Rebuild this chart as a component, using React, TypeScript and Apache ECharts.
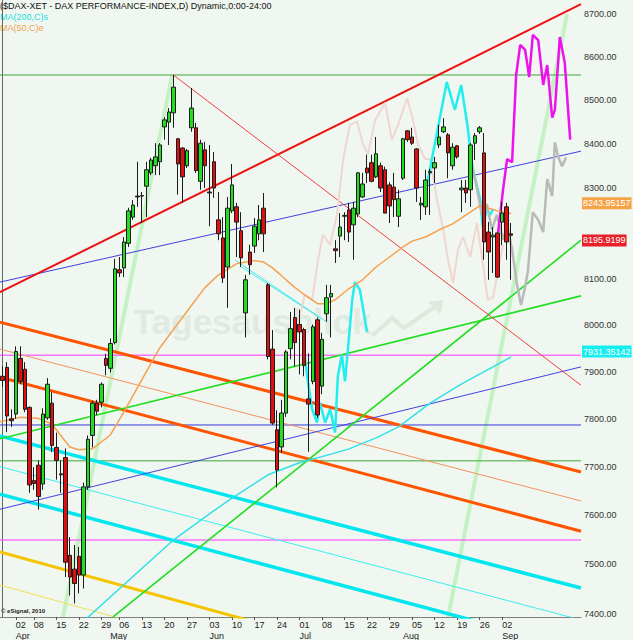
import React, { useEffect, useRef } from "react";
import * as echarts from "echarts";

// ---------- calendar ----------
const FIRST_DAY = "2013-03-26";
const HOLIDAYS = ["2013-03-29", "2013-04-01", "2013-05-01"];
const SLOT_COUNT = 129;
const LAST_LABEL_DAY = "2013-09-02";
const MONTH_NAMES = ["Jan", "Feb", "Mar", "Apr", "May", "Jun", "Jul", "Aug", "Sep", "Oct", "Nov", "Dec"];

// ---------- price axis ----------
const Y_TOP = 8732.9;
const Y_BOTTOM = 7393.9;
const yTicks = [7400, 7500, 7600, 7700, 7800, 7900, 8000, 8100, 8300, 8400, 8500, 8600, 8700];

// ---------- daily candles [open, close, low, high] ----------
const candles: number[][] = [
  [7890, 7881, 7867, 7911], [7909, 7806, 7772, 7920], [7800, 7796, 7783, 7820], [7810, 7943, 7800, 7954],
  [7928, 7879, 7873, 7954], [7905, 7820, 7814, 7920], [7824, 7662, 7646, 7826], [7671, 7665, 7652, 7699],
  [7703, 7638, 7611, 7713], [7664, 7810, 7652, 7822], [7802, 7873, 7798, 7886], [7833, 7744, 7730, 7856],
  [7740, 7713, 7673, 7771], [7685, 7683, 7646, 7713], [7719, 7504, 7474, 7738], [7518, 7474, 7437, 7555],
  [7490, 7461, 7421, 7539], [7516, 7478, 7441, 7535], [7478, 7658, 7451, 7667], [7658, 7757, 7652, 7765],
  [7765, 7833, 7740, 7838], [7833, 7816, 7808, 7840], [7835, 7873, 7824, 7877], [7928, 7913, 7892, 7938],
  [7907, 7960, 7898, 7971], [7962, 8122, 7958, 8144], [8120, 8113, 8104, 8148], [8124, 8181, 8104, 8192],
  [8178, 8250, 8170, 8257], [8236, 8263, 8230, 8274], [8283, 8281, 8259, 8360], [8283, 8284, 8223, 8292],
  [8305, 8342, 8236, 8360], [8335, 8364, 8330, 8369], [8351, 8371, 8330, 8402], [8360, 8398, 8330, 8402],
  [8439, 8455, 8410, 8461], [8450, 8473, 8398, 8482], [8471, 8530, 8437, 8558], [8412, 8355, 8286, 8414],
  [8391, 8326, 8268, 8393], [8351, 8385, 8346, 8389], [8437, 8482, 8428, 8528], [8437, 8340, 8335, 8448],
  [8316, 8402, 8297, 8410], [8387, 8351, 8301, 8405], [8292, 8290, 8216, 8398], [8360, 8301, 8279, 8382],
  [8230, 8199, 8185, 8292], [8190, 8102, 8091, 8236], [8126, 8256, 8037, 8281], [8250, 8308, 8245, 8355],
  [8259, 8225, 8148, 8268], [8206, 8146, 8126, 8247], [8026, 8098, 7973, 8109], [8159, 8131, 8109, 8175],
  [8172, 8216, 8157, 8234], [8199, 8230, 8185, 8263], [8256, 8199, 8159, 8290], [8087, 7932, 7926, 8091],
  [7948, 7791, 7787, 7989], [7777, 7693, 7657, 7818], [7741, 7812, 7729, 7840], [7812, 7942, 7804, 7946],
  [7949, 7992, 7926, 8028], [8016, 7962, 7911, 8037], [8001, 7985, 7894, 8033], [7990, 7913, 7890, 7994],
  [7842, 7831, 7731, 7939], [7879, 7996, 7873, 8001], [8011, 7808, 7802, 8016], [7869, 7969, 7852, 7983],
  [8024, 8059, 8007, 8087], [8061, 8068, 7973, 8087], [8166, 8162, 8135, 8185], [8194, 8214, 8148, 8245],
  [8238, 8240, 8185, 8247], [8252, 8203, 8181, 8268], [8219, 8256, 8142, 8270], [8243, 8335, 8236, 8337],
  [8281, 8310, 8279, 8335], [8346, 8335, 8312, 8376], [8358, 8316, 8314, 8376], [8326, 8378, 8323, 8416],
  [8351, 8301, 8292, 8358], [8342, 8245, 8245, 8349], [8308, 8261, 8223, 8314], [8303, 8275, 8236, 8335],
  [8238, 8277, 8214, 8297], [8323, 8412, 8319, 8414], [8430, 8410, 8405, 8432], [8416, 8402, 8398, 8437],
  [8389, 8301, 8270, 8391], [8263, 8267, 8230, 8281], [8259, 8319, 8241, 8342], [8335, 8338, 8241, 8344],
  [8346, 8358, 8312, 8371], [8398, 8416, 8391, 8444], [8428, 8439, 8425, 8459], [8421, 8380, 8323, 8425],
  [8351, 8393, 8342, 8402], [8396, 8371, 8367, 8398], [8297, 8301, 8247, 8319], [8301, 8290, 8268, 8319],
  [8297, 8398, 8259, 8402], [8402, 8419, 8364, 8425], [8428, 8437, 8423, 8441], [8380, 8181, 8142, 8425],
  [8203, 8159, 8098, 8225], [8192, 8196, 8113, 8214], [8201, 8104, 8102, 8203], [8225, 8245, 8174, 8270],
  [8259, 8181, 8142, 8268], [8199, 8195.9199, 8098, 8223],
];

// ---------- moving averages [slot, value] ----------
const ma50: number[][] = [
  [-0.5, 7794], [4, 7803], [8, 7801], [11, 7789], [15, 7741], [17, 7735], [20, 7737], [24, 7766],
  [27, 7814], [31, 7883], [35, 7951], [38, 7990], [42, 8042], [45, 8081], [48, 8109], [52, 8133],
  [56, 8140], [58, 8137], [60, 8124], [62, 8107], [65, 8081], [67, 8066], [70, 8046], [72, 8046],
  [74, 8055], [77, 8079], [80, 8098], [83, 8126], [86, 8148], [89, 8170], [91, 8183], [94, 8192],
  [97, 8208], [100, 8221], [103, 8241], [106, 8261], [108, 8256], [110, 8250], [113, 8243.95157],
];
const ma200: number[][] = [
  [17, 7377], [38, 7549], [45, 7596], [51, 7635], [59, 7683], [66, 7708], [73, 7726], [77, 7737],
  [83, 7760], [88, 7783], [95, 7833], [102, 7874], [113, 7931.35142],
];

// ---------- end-value tags ----------
const tagMa50 = 8243.95157;
const tagClose = 8195.9199;
const tagMa200 = 7931.35142;

// ---------- trend lines [slot, value] ----------
const redChannel = [[-0.5, 8071], [128.5, 8723]];
const redFromPeak = [[38, 8558], [128.5, 7871]];
const blueUpper = [[-0.5, 8093], [128.5, 8384]];
const blueLower = [[-0.5, 7612], [128.5, 7910]];
const orangeUpper = [[-0.5, 8006], [128.5, 7689]];
const orangeThin = [[-0.5, 7948], [128.5, 7629]];
const orangeLower = [[-0.5, 7888], [128.5, 7567]];
const cyanUpper = [[-0.5, 7764], [128.5, 7452]];
const cyanThin = [[-0.5, 7700], [128.5, 7388]];
const cyanLower = [[-0.5, 7643], [128.5, 7330]];
const goldThick = [[-0.5, 7525], [128.5, 7207]];
const goldThin = [[-0.5, 7458], [128.5, 7139]];
const greenSteep = [[24.6, 7394], [128.5, 8185]];
const greenShallow = [[-0.5, 7758], [128.5, 8063]];
const paleLeft = [[13.5, 7394], [37.7, 8557]];
const paleRight = [[99.0, 7394], [125.4, 8700]];
const cyanShortA = [[51.7, 8141], [72.1, 8006]];
const cyanShortB = [[52.8, 8128], [70.6, 8015]];

// horizontal levels
const greenTop = 8558;
const magentaUpper = 7935;
const blueLevel = 7787;
const greenLevel = 7712;
const magentaLower = 7549;

// ---------- analog overlays [slot, value] ----------
const pinkPath = [
  [65.2, 7990], [67.2, 8065], [68.8, 8054], [70.1, 8141], [71.2, 8197], [72.8, 8175], [74.3, 8241],
  [75.7, 8366], [77.2, 8444], [78.8, 8451], [80.1, 8399], [81.2, 8377], [82.8, 8455], [85.0, 8494],
  [86.5, 8410], [87.9, 8444], [89.9, 8505], [91.2, 8455], [92.3, 8399], [93.9, 8366], [95.0, 8366],
  [96.5, 8276], [97.9, 8208], [99.0, 8141], [100.1, 8091], [101.2, 8164], [102.3, 8192], [103.9, 8148],
  [105.4, 8223], [106.7, 8135], [107.8, 8054], [109.0, 8061], [110.1, 8120], [111.2, 8175],
];
const cyanPathA = [
  [66.8, 7962], [67.9, 7876], [68.8, 7820], [69.9, 7792], [70.5, 7834], [71.7, 7792], [72.8, 7820],
  [73.9, 7771], [74.5, 7889], [75.4, 7936], [76.1, 7879], [76.8, 7953], [77.7, 8054], [78.3, 8093],
  [79.4, 8076], [81.0, 7985],
];
const cyanPathB = [
  [93.9, 8287], [95.4, 8366], [98.7, 8542], [100.5, 8478], [101.9, 8535], [103.2, 8449], [104.5, 8343],
  [106.1, 8276], [106.7, 8214], [107.6, 8254], [108.3, 8241], [109.0, 8254],
];
const magentaPath = [
  [110.1, 8203], [111.2, 8298], [112.1, 8366], [113.2, 8359], [114.1, 8558], [115.0, 8628], [116.1, 8616],
  [117.0, 8553], [117.8, 8651], [119.0, 8639], [120.1, 8535], [121.0, 8581], [122.1, 8460], [122.7, 8478],
  [123.8, 8646], [124.9, 8586], [126.1, 8410],
];
const grayPath = [
  [103.9, 8366], [105.2, 8310], [106.5, 8241], [107.6, 8265], [108.7, 8208], [109.8, 8241], [111.2, 8186],
  [112.1, 8219], [113.2, 8164], [114.3, 8087], [115.2, 8043], [116.1, 8083], [116.7, 8115], [117.8, 8247],
  [119.0, 8230], [120.1, 8203], [121.0, 8321], [122.1, 8283], [122.7, 8404], [123.4, 8372], [124.3, 8350],
  [125.2, 8370],
];

// ---------- helpers ----------
function buildDates(): string[] {
  const out: string[] = [];
  const d = new Date(FIRST_DAY + "T00:00:00Z");
  while (out.length < SLOT_COUNT) {
    const wd = d.getUTCDay();
    const iso = d.toISOString().slice(0, 10);
    if (wd !== 0 && wd !== 6 && HOLIDAYS.indexOf(iso) < 0) out.push(iso);
    d.setUTCDate(d.getUTCDate() + 1);
  }
  return out;
}
const dates = buildDates();
const dow = (s: string) => new Date(s + "T00:00:00Z").getUTCDay();
const isWeekStart = (i: number) =>
  i > 0 && dates[i] <= LAST_LABEL_DAY && dow(dates[i]) < dow(dates[i - 1]);
const isMonthStart = (i: number) =>
  i > 0 && dates[i] <= LAST_LABEL_DAY && dates[i].slice(5, 7) !== dates[i - 1].slice(5, 7);

const toLog = (pts: number[][]) => pts.map(([i, v]) => [i, Math.log(v)]);
const FONT = '"Liberation Sans", Arial, sans-serif';

function line(pts: number[][], color: string, width: number, z = 2, extra: any = {}) {
  return {
    type: "line",
    xAxisIndex: 2,
    yAxisIndex: 0,
    data: toLog(pts),
    symbol: "none",
    silent: true,
    animation: false,
    z,
    lineStyle: { color, width },
    ...extra,
  };
}
const level = (v: number, color: string, width = 1) =>
  line([[-0.5, v], [128.5, v]], color, width);

const tag = (v: number, bg: string) => ({
  yAxis: Math.log(v),
  lineStyle: { color: "rgba(0,0,0,0)", width: 1 },
  label: {
    show: true,
    position: "end",
    distance: 1,
    formatter: String(v),
    color: "#ffffff",
    backgroundColor: bg,
    padding: [2, 1, 1, 1],
    fontSize: 9,
    fontFamily: FONT,
  },
});

export default function App() {
  const ref = useRef<HTMLDivElement>(null);

  useEffect(() => {
    const chart = echarts.init(ref.current!, null, { renderer: "svg" });
    const option: any = {
      animation: false,
      backgroundColor: "#f0f7f0",
      grid: { left: 0, right: 52, top: 0, bottom: 23, containLabel: false },
      xAxis: [
        {
          type: "category",
          data: dates,
          boundaryGap: true,
          position: "bottom",
          axisLine: { show: true, lineStyle: { color: "#808080" } },
          axisTick: {
            show: true,
            interval: (i: number) => isWeekStart(i),
            alignWithLabel: true,
            length: 3,
            lineStyle: { color: "#555" },
          },
          axisLabel: {
            interval: (i: number) => isWeekStart(i),
            formatter: (v: string) => v.slice(8, 10),
            align: "left",
            margin: 3,
            fontSize: 9,
            color: "#222",
            fontFamily: FONT,
          },
          splitLine: { show: false },
        },
        {
          type: "category",
          data: dates,
          boundaryGap: true,
          position: "bottom",
          offset: 11,
          axisLine: { show: false },
          axisTick: { show: false },
          axisLabel: {
            interval: (i: number) => isMonthStart(i),
            formatter: (v: string) => MONTH_NAMES[Number(v.slice(5, 7)) - 1],
            align: "left",
            margin: 3,
            fontSize: 9,
            color: "#222",
            fontFamily: FONT,
          },
          splitLine: { show: false },
        },
        { type: "value", min: -0.5, max: SLOT_COUNT - 0.5, show: false },
      ],
      yAxis: {
        type: "value",
        position: "right",
        min: Math.log(Y_BOTTOM),
        max: Math.log(Y_TOP),
        axisLine: { show: true, lineStyle: { color: "#666" } },
        axisTick: { show: false },
        splitLine: { show: false },
        axisLabel: {
          customValues: yTicks.map((t) => Math.log(t)),
          formatter: (v: number) => Math.exp(v).toFixed(2),
          margin: 3,
          fontSize: 9,
          color: "#333",
          fontFamily: FONT,
        },
      },
      graphic: [
        {
          type: "text",
          left: 133,
          top: 304,
          z: 0,
          silent: true,
          style: { text: "Tagesausblick", fill: "#e1eae1", font: 'bold 35px "Liberation Sans", Arial, sans-serif' },
        },
        {
          type: "text",
          left: 403,
          top: 336,
          z: 0,
          silent: true,
          style: { text: "de", fill: "#e1eae1", font: '9px "Liberation Sans", Arial, sans-serif' },
        },
        {
          type: "polyline",
          z: 0,
          silent: true,
          shape: { points: [[372, 336], [392, 318], [404, 328], [436, 306]] },
          style: { stroke: "#dde9dd", lineWidth: 4, fill: "none" },
        },
        {
          type: "polygon",
          z: 0,
          silent: true,
          shape: { points: [[428, 302], [444, 300], [440, 314]] },
          style: { fill: "#dde9dd" },
        },
        {
          type: "text",
          left: 0,
          top: 1,
          silent: true,
          style: { text: "($DAX-XET - DAX PERFORMANCE-INDEX,D) Dynamic,0:00-24:00", fill: "#111", font: '9px "Liberation Sans", Arial, sans-serif' },
        },
        {
          type: "text",
          left: 0,
          top: 12,
          silent: true,
          style: { text: "MA(200,C)s", fill: "#22dede", font: '9px "Liberation Sans", Arial, sans-serif' },
        },
        {
          type: "text",
          left: 0,
          top: 23,
          silent: true,
          style: { text: "MA(50,C)e", fill: "#f0a050", font: '9px "Liberation Sans", Arial, sans-serif' },
        },
        {
          type: "text",
          left: 1,
          top: 608,
          silent: true,
          style: { text: "© eSignal, 2010", fill: "#222", font: 'bold 6px "Liberation Sans", Arial, sans-serif' },
        },
      ],
      series: [
        // pale broad trend lines
        line(paleLeft, "#c4f2c4", 4, 1),
        line(paleRight, "#c4f2c4", 4, 1),
        // horizontal levels
        level(greenTop, "#3aa83a"),
        level(magentaUpper, "#ff33ff"),
        level(blueLevel, "#3838e0"),
        level(greenLevel, "#3aa83a"),
        level(magentaLower, "#ff33ff"),
        // channels
        line(orangeUpper, "#ff5500", 3),
        line(orangeThin, "#f5925e", 1),
        line(orangeLower, "#ff5500", 3),
        line(cyanUpper, "#00e6ee", 3.5),
        line(cyanThin, "#3ceeee", 1),
        line(cyanLower, "#00e6ee", 3.5),
        line(goldThick, "#f5c400", 3),
        line(goldThin, "#f2de55", 1),
        line(blueUpper, "#4040e0", 1),
        line(blueLower, "#4040e0", 1),
        line(greenSteep, "#22dd22", 1.6),
        line(greenShallow, "#22dd22", 1.6),
        line(redChannel, "#ee1111", 2),
        line(redFromPeak, "#f04040", 1),
        line(cyanShortA, "#44e8ee", 1),
        line(cyanShortB, "#44e8ee", 1),
        // analog overlays
        line(pinkPath, "#efd6d0", 2),
        line(cyanPathA, "#22eef0", 2.5),
        line(cyanPathB, "#22eef0", 2.5),
        line(grayPath, "#b9b9b9", 2.5),
        line(magentaPath, "#ee11ee", 2.5),
        // moving averages
        line(ma200, "#33e0e8", 1.5, 3),
        line(ma50, "#f5a14f", 1.5, 3, {
          markLine: {
            silent: true,
            symbol: ["none", "none"],
            animation: false,
            data: [tag(tagMa50, "#f5a347"), tag(tagClose, "#e8202a"), tag(tagMa200, "#14eef0")],
          },
        }),
        {
          type: "candlestick",
          xAxisIndex: 0,
          yAxisIndex: 0,
          data: candles.map((r) => r.map((v) => Math.log(v))),
          barWidth: 4,
          silent: true,
          z: 5,
          itemStyle: {
            color: "#22dd22",
            color0: "#e01010",
            borderColor: "#1c1c1c",
            borderColor0: "#1c1c1c",
            borderWidth: 1,
          },
        },
      ],
    };
    chart.setOption(option);
    return () => chart.dispose();
  }, []);

  return (
    <div
      ref={ref}
      style={{ position: "absolute", left: 0, top: 0, width: 633, height: 640, background: "#f0f7f0" }}
    />
  );
}
